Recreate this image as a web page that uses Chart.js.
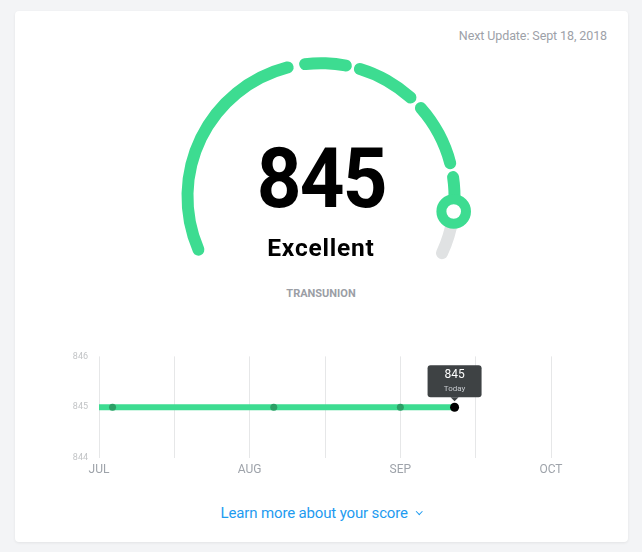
<!DOCTYPE html>
<html>
<head>
<meta charset="utf-8">
<script src="https://cdn.jsdelivr.net/npm/chart.js@4.4.0/dist/chart.umd.min.js"></script>
<style>
    body { margin: 0; width: 642px; height: 552px; overflow: hidden; position: relative; background: #f3f4f6; font-family: Roboto, "Noto Sans", sans-serif; }
    .card { position: absolute; left: 15px; top: 11px; width: 613px; height: 531px; background: #fff; border-radius: 4px; box-shadow: 0 1px 3px rgba(0,0,0,0.07); }
    .abs { position: absolute; white-space: nowrap; }
    #next-update { right: 35px; top: 30px; font-size: 12.5px; line-height: 1; color: #9da1a8; letter-spacing: -0.1px; }
    #score { left: 0; width: 642px; top: 137px; text-align: center; font-size: 84px; line-height: 1; font-weight: 700; color: #000; }
    #score span { display: inline-block; transform: scaleX(0.93); letter-spacing: -2px; }
    #rating { left: 0; width: 642px; top: 235.5px; text-align: center; font-size: 24.5px; line-height: 1; font-weight: 700; color: #000; letter-spacing: 0.8px; }
    #bureau { left: 0; width: 642px; top: 287.5px; text-align: center; font-size: 11px; line-height: 1; font-weight: 700; color: #9b9ea5; }
    #learn { left: 0; width: 642px; top: 505.5px; text-align: center; font-size: 15px; line-height: 1; color: #1e9bf0; letter-spacing: -0.15px; }
    #learn .chev { display: inline-block; width: 3.5px; height: 3.5px; border-right: 1.5px solid #1e9bf0; border-bottom: 1.5px solid #1e9bf0; transform: rotate(45deg); margin-left: 9px; position: relative; top: -4px; }
    #gauge { position: absolute; left: 161px; top: 41px; }
    #history { position: absolute; left: 40px; top: 340px; }
</style>
</head>
<body>
<div class="card"></div>
<div class="abs" id="next-update">Next Update: Sept 18, 2018</div>
<canvas id="gauge" width="320" height="240"></canvas>
<div class="abs" id="score"><span>845</span></div>
<div class="abs" id="rating">Excellent</div>
<div class="abs" id="bureau">TRANSUNION</div>
<canvas id="history" width="540" height="150"></canvas>
<div class="abs" id="learn">Learn more about your score<span class="chev"></span></div>

<script>
// Gauge data: score range split into bands, current score
const scoreMin = 300;
const scoreMax = 900;
const bandEdges = [300, 575, 635, 715, 800, 900];
const currentScore = 845;

// History chart data (x in months since July)
const monthLabels = ['JUL', 'AUG', 'SEP', 'OCT'];
const historyX = [0, 0.09, 1.16, 2.0, 2.36];
const historyScores = [845, 845, 845, 845, 845];
const yTicks = [844, 845, 846];

const green = '#3ddc91';
const gray = '#e0e2e3';

// build gauge segments: full bands below the score, the band holding the score is split
const gaugeData = [];
const gaugeColors = [];
for (let i = 0; i < bandEdges.length - 1; i++) {
    const lo = bandEdges[i], hi = bandEdges[i + 1];
    if (currentScore >= hi) {
        gaugeData.push(hi - lo); gaugeColors.push(green);
    } else if (currentScore > lo) {
        gaugeData.push(currentScore - lo); gaugeColors.push(green);
        gaugeData.push(hi - currentScore); gaugeColors.push(gray);
    } else {
        gaugeData.push(hi - lo); gaugeColors.push(gray);
    }
}
const scoreIndex = gaugeColors.lastIndexOf(green);

const knobPlugin = {
    id: 'knob',
    afterDatasetsDraw(chart) {
        const arc = chart.getDatasetMeta(0).data[scoreIndex];
        if (!arc) return;
        const ctx = chart.ctx;
        const spacing = chart.data.datasets[0].spacing || 0;
        const r = (arc.innerRadius + arc.outerRadius) / 2 + spacing / 2;
        const a = arc.endAngle;
        const x = arc.x + Math.cos(a) * r;
        const y = arc.y + Math.sin(a) * r;
        ctx.save();
        ctx.beginPath();
        ctx.arc(x, y, 12.3, 0, Math.PI * 2);
        ctx.fillStyle = '#fff';
        ctx.fill();
        ctx.lineWidth = 10;
        ctx.strokeStyle = green;
        ctx.stroke();
        ctx.restore();
    }
};

new Chart(document.getElementById('gauge'), {
    type: 'doughnut',
    data: {
        datasets: [{
            data: gaugeData,
            backgroundColor: gaugeColors,
            borderWidth: 0,
            borderRadius: 6,
            spacing: 10
        }]
    },
    options: {
        responsive: false,
        animation: false,
        events: [],
        rotation: -118,
        circumference: 236,
        radius: 134.5,
        cutout: '91.1%',
        plugins: { legend: { display: false }, tooltip: { enabled: false } }
    },
    plugins: [knobPlugin]
});

// "Today" tooltip bubble over the latest point
const todayPlugin = {
    id: 'todayBubble',
    afterDatasetsDraw(chart) {
        const meta = chart.getDatasetMeta(0);
        const pt = meta.data[meta.data.length - 1];
        const ctx = chart.ctx;
        const w = 54, h = 32;
        const left = pt.x - w / 2, bottom = pt.y - 10, top = bottom - h;
        ctx.save();
        ctx.fillStyle = '#3e4244';
        ctx.beginPath();
        ctx.roundRect(left, top, w, h, 3);
        ctx.fill();
        ctx.beginPath();
        ctx.moveTo(pt.x - 4, bottom);
        ctx.lineTo(pt.x, bottom + 4);
        ctx.lineTo(pt.x + 4, bottom);
        ctx.fill();
        ctx.textAlign = 'center';
        ctx.textBaseline = 'middle';
        ctx.fillStyle = '#fff';
        ctx.font = '12px Roboto';
        ctx.fillText(String(historyScores[historyScores.length - 1]), pt.x, top + 10);
        ctx.fillStyle = '#c8ccd0';
        ctx.font = '8px Roboto';
        ctx.fillText('Today', pt.x, top + 24);
        ctx.restore();
    }
};

new Chart(document.getElementById('history'), {
    type: 'line',
    data: {
        datasets: [{
            data: historyX.map((x, i) => ({ x: x, y: historyScores[i] })),
            borderColor: green,
            borderWidth: 6,
            borderCapStyle: 'butt',
            pointRadius: historyX.map((x, i) => i === 0 ? 0 : (i === historyX.length - 1 ? 4.5 : 3.5)),
            pointBackgroundColor: historyX.map((x, i) => i === historyX.length - 1 ? '#000' : '#2c9f66'),
            pointBorderWidth: 0,
            tension: 0
        }]
    },
    options: {
        responsive: false,
        animation: false,
        events: [],
        layout: { padding: { left: 0, right: 29, top: 12, bottom: 8 } },
        plugins: { legend: { display: false }, tooltip: { enabled: false } },
        scales: {
            x: {
                type: 'linear',
                min: 0,
                max: monthLabels.length - 1,
                afterFit(scale) { scale.height = 24; },
                afterBuildTicks(scale) {
                    const ticks = [];
                    for (let v = 0; v <= monthLabels.length - 1; v += 0.5) ticks.push({ value: v });
                    scale.ticks = ticks;
                },
                ticks: {
                    autoSkip: false,
                    maxRotation: 0,
                    padding: 5,
                    color: '#9ea3aa',
                    font: { family: 'Roboto', size: 12 },
                    callback: (v) => Number.isInteger(v) ? monthLabels[v] : ''
                },
                grid: { color: '#e6e7e8', lineWidth: 1, drawTicks: false },
                border: { display: false }
            },
            y: {
                min: yTicks[0],
                max: yTicks[yTicks.length - 1],
                afterFit(scale) { scale.width = 59; },
                afterBuildTicks(scale) { scale.ticks = yTicks.map(v => ({ value: v })); },
                ticks: {
                    padding: 11,
                    color: '#c2c4c6',
                    font: { family: 'Roboto', size: 9 }
                },
                grid: { display: false, drawTicks: false },
                border: { display: false }
            }
        }
    },
    plugins: [todayPlugin]
});
</script>
</body>
</html>
